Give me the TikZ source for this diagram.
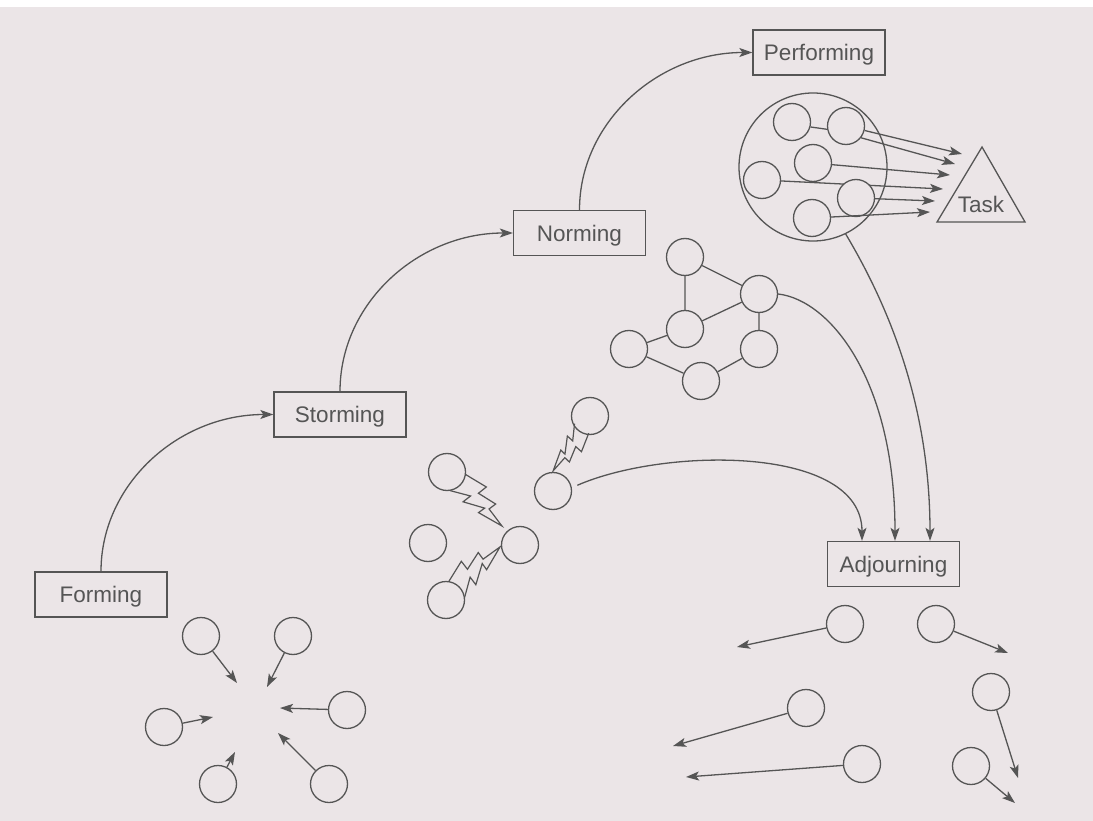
\documentclass[tikz,border=0pt]{standalone}
\usepackage{fontspec}
\setmainfont{Liberation Sans}
\usetikzlibrary{arrows.meta,calc}
\definecolor{ink}{RGB}{85,85,85}
\definecolor{page}{RGB}{235,229,231}
\tikzset{
  stage/.style={draw=ink, line width=1.3pt, minimum width=132pt, minimum height=45pt,
    inner sep=0pt, text=ink, text height=16.5pt, text depth=0pt,
    font=\fontsize{22.5}{27}\selectfont},
  member/.style={circle, draw=ink, line width=1.3pt, fill=page, minimum size=37pt, inner sep=0pt},
  link/.style={draw=ink, line width=1.3pt},
  arr/.style={link, -{Stealth[length=13pt,width=9pt,inset=3pt]}},
  boltline/.style={draw=ink, line width=1.2pt, line join=miter},
}
% lightning bolt leaving a member circle: node, angle, length, width factor
\newcommand{\zap}[4]{%
  \begin{scope}[shift={(#1)}, rotate=#2, xshift=15pt, xscale=#3, yscale=#4]
    \draw[boltline] (0,-9) -- (0.38,-13.5) -- (0.36,-5.5) -- (0.68,-9) -- (0.66,-2.5) -- (1,0)
      -- (0.58,5.5) -- (0.60,-0.5) -- (0.28,8) -- (0.30,0.5) -- (0,9);
  \end{scope}}
\begin{document}
\begin{tikzpicture}[x=1pt,y=-1pt]
\fill[page] (0,0) rectangle (1093,821);
\fill[white] (0,0) rectangle (1093,7);
\useasboundingbox (0,0) rectangle (1093,821);

% stages
\node[stage] (forming)    at (101,594.5) {Forming};
\node[stage] (storming)   at (340,414.5) {Storming};
\node[stage] (norming)    at (579.5,233) {Norming};
\node[stage] (performing) at (819,52.5)  {Performing};
\node[stage] (adjourning) at (893.5,564) {Adjourning};

\draw[arr] (forming.north) .. controls +(0,-87) and +(-95,0) .. (storming.west);
\draw[arr] (storming.north) .. controls +(0,-88) and +(-95,0) .. (norming.west);
\draw[arr] (norming.north) .. controls +(0,-87) and +(-95,0) .. (performing.west);

% forming: members drawn toward the middle
\node[member] (f1) at (201,636) {};
\node[member] (f2) at (293,636) {};
\node[member] (f3) at (347,710) {};
\node[member] (f4) at (164,727) {};
\node[member] (f5) at (218,784) {};
\node[member] (f6) at (329,784) {};
\coordinate (ft1) at (237,683);
\coordinate (ft2) at (267,687);
\coordinate (ft3) at (280,708);
\coordinate (ft4) at (213,717);
\coordinate (ft5) at (235,752);
\coordinate (ft6) at (278,733);
\foreach \i in {1,...,6} \draw[arr] (f\i) -- (ft\i);

% storming: conflict between members
\node[member] (s1) at (447,472) {};
\node[member] (s2) at (428,543) {};
\node[member] (s3) at (446,600) {};
\node[member] (s4) at (520,545) {};
\node[member] (s5) at (553,491) {};
\node[member] (s6) at (590,416) {};
\zap{s1}{-44.5}{62}{1.25}
\zap{s3}{44.5}{60.7}{1.25}
\zap{s6}{-123.9}{51}{0.95}

% norming: a connected network
\node[member] (n1) at (685,257) {};
\node[member] (n2) at (759,294) {};
\node[member] (n3) at (685,329) {};
\node[member] (n4) at (629,349) {};
\node[member] (n5) at (759,349) {};
\node[member] (n6) at (701,381) {};
\draw[link] (n1) -- (n2) (n1) -- (n3) (n3) -- (n2) (n2) -- (n5)
            (n3) -- (n4) (n4) -- (n6) (n6) -- (n5);

% performing: the team working on the task
\node[circle, draw=ink, line width=1.3pt, minimum size=148pt, inner sep=0pt] (team) at (813,167) {};
\node[member] (c1) at (792,122) {};
\node[member] (c2) at (846,126) {};
\node[member] (c3) at (813,163) {};
\node[member] (c4) at (762,180) {};
\node[member] (c6) at (812,218) {};
\draw[link] (c1.-15) -- (c2.190);
\coordinate (tp1) at (962,154);
\coordinate (tp2) at (955,164);
\coordinate (tp3) at (950,175);
\coordinate (tp4) at (943,189);
\coordinate (tp5) at (935,201);
\coordinate (tp6) at (930,212);
\draw[arr] (c2) -- (tp1);
\draw[arr] (c2.-38) -- (tp2);
\draw[arr] (c3) -- (tp3);
\draw[arr] (c4) -- (tp4);
\node[member] (c5) at (856,198) {};
\draw[arr] (c5) -- (tp5);
\draw[arr] (c6) -- (tp6);

\draw[link, line join=miter] (937,222) -- (982,147) -- (1025,222) -- cycle;
\node[text=ink, font=\fontsize{22.5}{27}\selectfont, inner sep=0pt] (task) at (981,204.7) {Task};

% into adjourning
\draw[arr, shorten <=6pt] (s5.10) .. controls (665,447) and (862,445) .. ([xshift=-31.5pt]adjourning.north);
\draw[arr] (n2.east) .. controls (830,300) and (895,380) .. ([xshift=1.5pt]adjourning.north);
\draw[arr] (team.-64) .. controls (885,300) and (930,400) .. ([xshift=36.5pt]adjourning.north);

% adjourning: members moving apart
\node[member] (a1) at (845,624) {};
\node[member] (a2) at (936,624) {};
\node[member] (a3) at (806,708) {};
\node[member] (a4) at (991,692) {};
\node[member] (a5) at (862,764) {};
\node[member] (a6) at (971,766) {};
\coordinate (at1) at (737,647);
\coordinate (at2) at (1008,653);
\coordinate (at3) at (673,746);
\coordinate (at4) at (1018,778);
\coordinate (at5) at (686,777);
\coordinate (at6) at (1015,803);
\foreach \i in {1,...,6} \draw[arr] (a\i) -- (at\i);
\end{tikzpicture}
\end{document}
